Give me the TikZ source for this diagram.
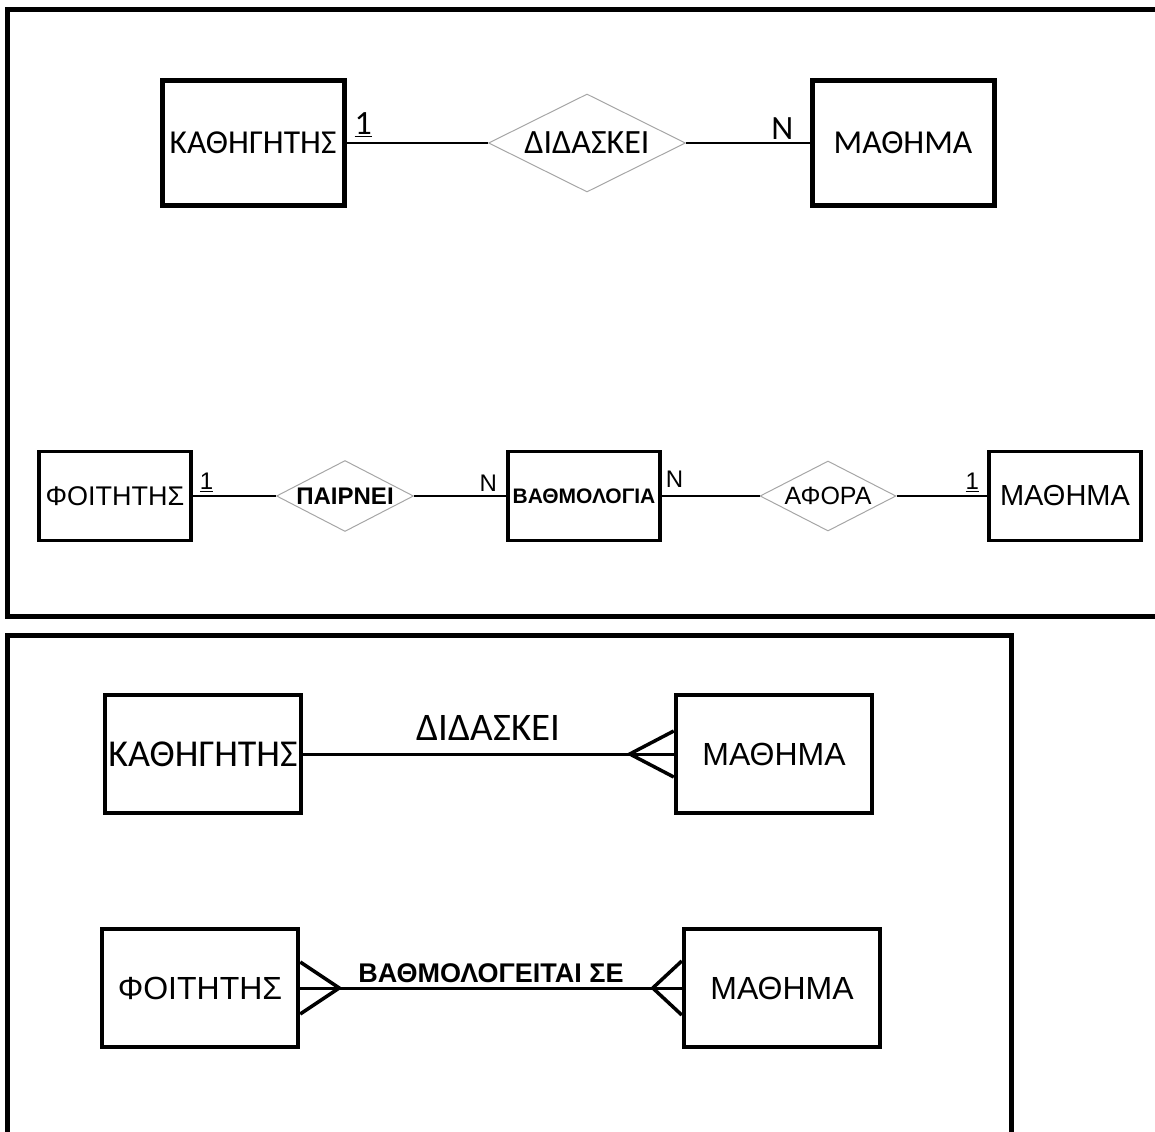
\documentclass[tikz,border=0pt]{standalone}
\usepackage{fontspec}
\setmainfont{Liberation Sans}
\newfontfamily\calibri{Carlito}
\usetikzlibrary{shapes.geometric, positioning}

\newcommand{\fs}[1]{\fontsize{#1}{#1}\selectfont}

\begin{document}
\begin{tikzpicture}[
  x = 1pt, y = -1pt,
  frame/.style={draw, line width = 5pt},
  entity_top/.style={rectangle, draw, line width = 5pt, inner sep = 0pt,
    minimum width = 182pt, minimum height = 125pt, font = \calibri\fs{33.5}},
  entity_small/.style={rectangle, draw, line width = 3.5pt, inner sep = 0pt,
    minimum width = 152pt, minimum height = 89pt, font = \fs{27}},
  entity_big/.style={rectangle, draw, line width = 4.5pt, inner sep = 0pt,
    minimum width = 196pt, minimum height = 118pt, font = \fs{32}},
  rel/.style={diamond, draw = gray!70, line width = 1pt, inner sep = 0pt, aspect = 2},
  card/.style={inner sep = 0pt, font = \fs{24}},
  lbl/.style={inner sep = 0pt},
  line/.style={draw, line width = 2.5pt},
  crow/.style={draw, line width = 3.5pt, line join = miter}
  ]

\useasboundingbox (0,0) rectangle (1155,1131);
\draw [frame] (7.5,9.5) rectangle (1175,616);
\draw [frame] (7.5,635.5) rectangle (1011,1150);

% Chen notation
\node [entity_top] (kath1) at (253,143) {ΚΑΘΗΓΗΤΗΣ};
\node [rel, minimum width = 197pt, minimum height = 98pt, font = \calibri\fs{34},
  node distance = 334pt, right of = kath1] (didaskei1) {ΔΙΔΑΣΚΕΙ};
\node [entity_top, node distance = 316pt, right of = didaskei1] (math1) {ΜΑΘΗΜΑ};

\node [card, font = \calibri\fs{34}, above right = 6pt and 8pt of kath1.east] (k_one) {\underline{1}};
\node [card, font = \calibri\fs{34}, above left = 3pt and 16pt of math1.west] (m_n) {N};

\path [line] (kath1) -- (didaskei1);
\path [line] (didaskei1) -- (math1);

\node [entity_small] (foit1) at (115,496) {ΦΟΙΤΗΤΗΣ};
\node [rel, minimum width = 137pt, minimum height = 71pt, font = \bfseries\fs{24},
  node distance = 230pt, right of = foit1] (pairnei) {ΠΑΙΡΝΕΙ};
\node [entity_small, font = \bfseries\fs{21}, node distance = 239pt, right of = pairnei] (vathm) {ΒΑΘΜΟΛΟΓΙΑ};
\node [rel, minimum width = 136pt, minimum height = 70pt, font = \fs{25},
  node distance = 244pt, right of = vathm] (afora) {ΑΦΟΡΑ};
\node [entity_small, font = \fs{29}, node distance = 237pt, right of = afora] (math2) {ΜΑΘΗΜΑ};

\node [card, above right = 4pt and 7pt of foit1.east] (f_one) {\underline{1}};
\node [card, above left = 4pt and 9pt of vathm.west] (v_n1) {N};
\node [card, above right = 8pt and 4pt of vathm.east] (v_n2) {N};
\node [card, above left = 4pt and 8pt of math2.west] (m_one) {\underline{1}};

\path [line] (foit1) -- (pairnei);
\path [line] (pairnei) -- (vathm);
\path [line] (vathm) -- (afora);
\path [line] (afora) -- (math2);

% crow's foot notation
\node [entity_big, font = \calibri\fs{38}] (kath2) at (203,754) {ΚΑΘΗΓΗΤΗΣ};
\node [entity_big, node distance = 571pt, right of = kath2] (math3) {ΜΑΘΗΜΑ};

\path [line, line width = 3pt] (kath2) --
  node [lbl, above = 12pt, font = \calibri\fs{39}] (didaskei2) {ΔΙΔΑΣΚΕΙ} (math3);
\draw [crow] ([yshift = 23pt]math3.west) -- ([xshift = -44pt]math3.west) -- ([yshift = -23pt]math3.west);

\node [entity_big] (foit2) at (200,988) {ΦΟΙΤΗΤΗΣ};
\node [entity_big, node distance = 582pt, right of = foit2] (math4) {ΜΑΘΗΜΑ};

\path [line, line width = 3pt] (foit2) --
  node [lbl, above = 4pt, font = \bfseries\fs{27}] (vathm2) {ΒΑΘΜΟΛΟΓΕΙΤΑΙ ΣΕ} (math4);
\draw [crow] ([yshift = 26pt]foit2.east) -- ([xshift = 39pt]foit2.east) -- ([yshift = -26pt]foit2.east);
\draw [crow] ([yshift = 27pt]math4.west) -- ([xshift = -29pt]math4.west) -- ([yshift = -27pt]math4.west);
\end{tikzpicture}
\end{document}
